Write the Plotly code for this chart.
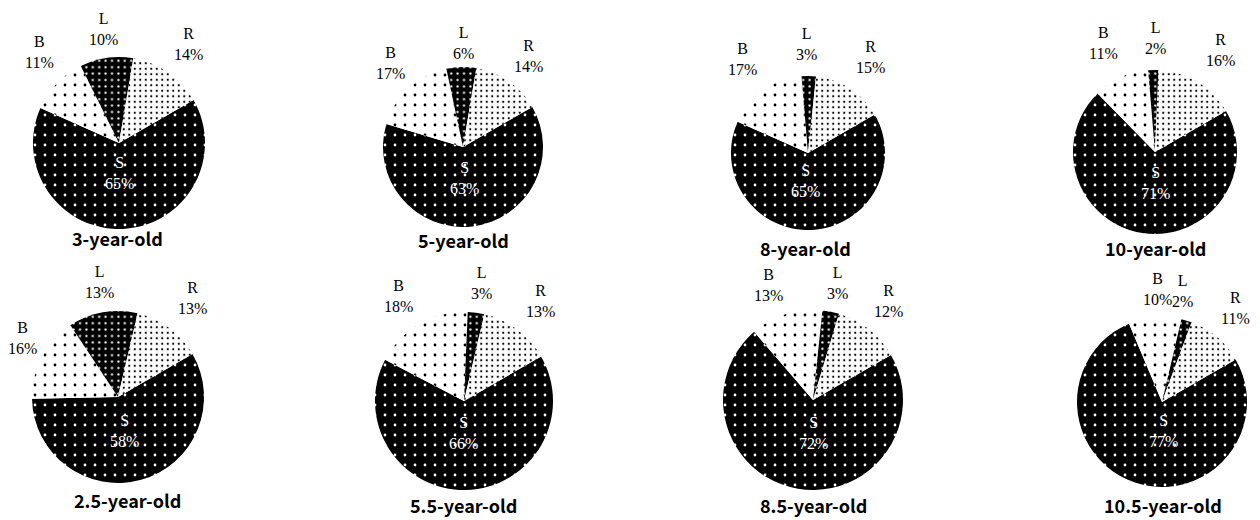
import plotly.graph_objects as go

# ---------------- data ----------------
ages = ["3-year-old", "5-year-old", "8-year-old", "10-year-old",
        "2.5-year-old", "5.5-year-old", "8.5-year-old", "10.5-year-old"]
slice_labels = ["S", "B", "L", "R"]          # clockwise order, starting at 60°
S_values = [65, 63, 65, 71, 58, 66, 72, 77]
B_values = [11, 17, 17, 11, 16, 18, 13, 10]
L_values = [10, 6, 3, 2, 13, 3, 3, 2]
R_values = [14, 14, 15, 16, 13, 13, 12, 11]

# ---------------- layout (pixels) ----------------
W, H = 1260, 520
# pie centre x, centre y, radius
pie_geom = [(119, 143, 86), (463, 147, 80), (808, 153, 77), (1155, 152, 82),
            (118, 397, 86), (464, 401, 89), (813, 400, 90), (1162, 402, 85)]
# label centres: S, B, L, R, title
label_pos = [
    [(119, 173), (39, 52), (103, 29), (188, 44), (117, 238)],
    [(464, 178), (390, 63), (463, 43), (528, 56), (463, 240)],
    [(806, 181), (742, 59), (807, 44), (870, 57), (806, 248)],
    [(1155, 183), (1103, 43), (1155, 38), (1220, 50), (1155, 248)],
    [(124, 431), (22, 338), (99, 282), (192, 298), (127, 500)],
    [(463, 433), (398, 296), (482, 283), (540, 301), (463, 505)],
    [(813, 433), (768, 285), (837, 283), (888, 301), (813, 505)],
    [(1163, 431), (1157, 289), (1182, 291), (1235, 308), (1163, 505)],
]

# patterns per slice (S, B, L, R)
pat_bg = ["black", "white", "black", "white"]
pat_fg = ["white", "black", "white", "black"]
pat_size = [10, 10, 6.4, 5.5]
pat_solid = [0.06, 0.06, 0.1, 0.12]

fig = go.Figure()
annotations = []
serif = "Liberation Serif, Times New Roman, serif"
gothic = "Noto Sans CJK JP, Noto Sans, sans-serif"

for i, age in enumerate(ages):
    vals = [S_values[i], B_values[i], L_values[i], R_values[i]]
    cx, cy, r = pie_geom[i]
    fig.add_trace(go.Pie(
        labels=slice_labels,
        values=vals,
        sort=False,
        direction="clockwise",
        rotation=60,
        textinfo="none",
        hoverinfo="label+value",
        showlegend=False,
        marker=dict(
            colors=pat_bg,
            line=dict(width=0),
            pattern=dict(shape=["."] * 4, bgcolor=pat_bg, fgcolor=pat_fg,
                         size=pat_size, solidity=pat_solid, fillmode="replace"),
        ),
        domain=dict(x=[(cx - r) / W, (cx + r) / W],
                    y=[1 - (cy + r) / H, 1 - (cy - r) / H]),
    ))
    for k, lab in enumerate(slice_labels):
        px, py = label_pos[i][k]
        annotations.append(dict(
            x=px / W, y=1 - py / H, xref="paper", yref="paper",
            xanchor="center", yanchor="middle", showarrow=False,
            text=f"{lab}<br>{vals[k]}%",
            font=dict(family=serif, size=16,
                      color="white" if lab == "S" else "black"),
        ))
    tx, ty = label_pos[i][4]
    annotations.append(dict(
        x=tx / W, y=1 - ty / H, xref="paper", yref="paper",
        xanchor="center", yanchor="middle", showarrow=False,
        text=f"<b>{age}</b>", borderpad=0,
        font=dict(family=gothic, size=18, color="black"),
    ))

fig.update_layout(
    width=W, height=H,
    margin=dict(l=0, r=0, t=0, b=0),
    paper_bgcolor="white",
    plot_bgcolor="white",
    annotations=annotations,
)

fig.write_html(
    "out.html",
    config={"displayModeBar": False},
    post_script="document.body.style.margin='0';document.body.style.overflow='hidden';",
)
